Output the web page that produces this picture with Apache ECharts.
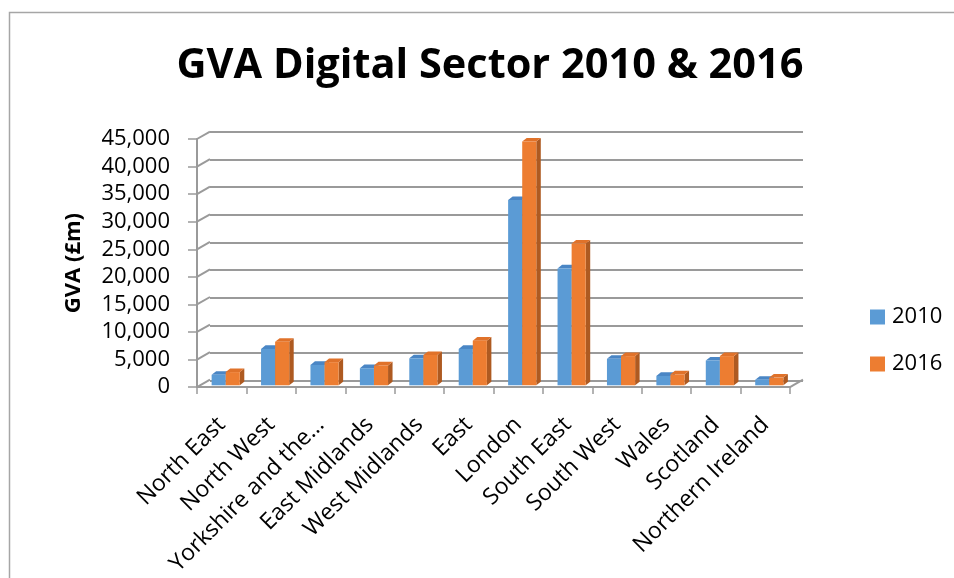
<!DOCTYPE html>
<html>
<head>
<meta charset="utf-8">
<script src="https://cdn.jsdelivr.net/npm/echarts@6/dist/echarts.min.js"></script>
<style>html,body{margin:0;padding:0;background:#fff}#c{width:954px;height:578px}</style>
</head>
<body>
<div id="c"></div>
<script>
const categories = ['North East','North West','Yorkshire and the\u2026','East Midlands','West Midlands','East','London','South East','South West','Wales','Scotland','Northern Ireland'];
const gva2010 = [1900, 6600, 3700, 3100, 4900, 6600, 33600, 21200, 4800, 1700, 4500, 1000];
const gva2016 = [2400, 7900, 4200, 3600, 5500, 8100, 44200, 25700, 5300, 2000, 5300, 1400];
const yTicks = [0, 5000, 10000, 15000, 20000, 25000, 30000, 35000, 40000, 45000];
const seriesNames = ['2010', '2016'];

const FONT = 'Open Sans';
const GRID_COLOR = '#9a9a9a';
const DEPTH_DX = 13, DEPTH_DY = -7.4;   // wall depth
const PLANE_DX = 4, PLANE_DY = -1.8;    // bar plane inside the floor
const BAR_DX = 4.5, BAR_DY = -3.6;      // bar depth
const colors = [
  {front: '#5B9BD5', top: '#4A86C5', side: '#41719C'},
  {front: '#ED7D31', top: '#E0722A', side: '#AE5A21'}
];

function fmt(v){ return v.toString().replace(/\B(?=(\d{3})+(?!\d))/g, ','); }

function barRenderer(k){
  return function(params, api){
    const i = api.value(0), v = api.value(1);
    const top = api.coord([i, v]), base = api.coord([i, 0]);
    const band = api.size([1, 0])[0];
    const w = band * 0.285;
    const cx = top[0] + PLANE_DX;
    const x0 = k === 0 ? cx - w : cx, x1 = x0 + w;
    const yT = top[1] + PLANE_DY, yB = base[1] + PLANE_DY;
    const c = colors[k];
    return {type: 'group', children: [
      {type: 'polygon', shape: {points: [[x1, yT], [x1 + BAR_DX, yT + BAR_DY], [x1 + BAR_DX, yB + BAR_DY], [x1, yB]]}, style: {fill: c.side}},
      {type: 'polygon', shape: {points: [[x0, yT], [x1, yT], [x1 + BAR_DX, yT + BAR_DY], [x0 + BAR_DX, yT + BAR_DY]]}, style: {fill: c.top}},
      {type: 'rect', shape: {x: x0, y: yT, width: w, height: yB - yT}, style: {fill: c.front}}
    ]};
  };
}

function wallRenderer(params, api){
  const val = api.value(0);
  const p = api.coord([0, val]);
  const band = api.size([1, 0])[0];
  const left = p[0] - band / 2;
  const children = [{type: 'line', shape: {x1: left, y1: p[1], x2: left + DEPTH_DX, y2: p[1] + DEPTH_DY}, style: {stroke: GRID_COLOR, lineWidth: 2}}];
  if (val === 0) {
    const q = api.coord([categories.length - 1, 0]);
    const right = q[0] + band / 2;
    children.push({type: 'line', shape: {x1: right, y1: q[1], x2: right + DEPTH_DX, y2: q[1] + DEPTH_DY}, style: {stroke: GRID_COLOR, lineWidth: 2}});
  }
  return {type: 'group', children: children};
}

const chart = echarts.init(document.getElementById('c'), null, {renderer: 'canvas'});
const option = {
  animation: false,
  backgroundColor: '#fff',
  textStyle: {fontFamily: FONT},
  graphic: [{type: 'rect', left: 7, top: 10, shape: {width: 990, height: 620}, style: {fill: 'none', stroke: '#a6a6a6', lineWidth: 1.5}, silent: true, z: -10}],
  title: {text: 'GVA Digital Sector 2010 & 2016', left: 485, top: 40, textAlign: 'center',
    textStyle: {fontFamily: FONT, fontWeight: 'bold', fontSize: 41.5, color: '#000'}},
  legend: {orient: 'vertical', left: 865, top: 301, itemWidth: 15, itemHeight: 15, itemGap: 25,
    icon: 'rect', data: seriesNames,
    textStyle: {fontFamily: FONT, fontSize: 22, color: '#000', padding: [0, 0, 0, 2]}},
  grid: [
    {left: 210, right: 151, top: 139 + DEPTH_DY, height: 249, containLabel: false},
    {left: 197, right: 164, top: 139, height: 249, containLabel: false}
  ],
  xAxis: [
    {gridIndex: 0, type: 'category', data: categories, show: false},
    {gridIndex: 1, type: 'category', data: categories,
      axisLine: {lineStyle: {color: GRID_COLOR, width: 2}},
      axisTick: {show: true, length: 7, lineStyle: {color: GRID_COLOR, width: 1.5}},
      axisLabel: {rotate: 45, fontFamily: FONT, fontSize: 23, color: '#000', margin: 34, interval: 0}}
  ],
  yAxis: [
    {gridIndex: 0, type: 'value', min: 0, max: 45000, interval: 5000,
      axisLine: {show: false}, axisTick: {show: false}, axisLabel: {show: false},
      splitLine: {show: true, lineStyle: {color: GRID_COLOR, width: 2}}},
    {gridIndex: 1, type: 'value', min: 0, max: 45000, interval: 5000,
      name: 'GVA (\u00a3m)', nameLocation: 'middle', nameRotate: 90, nameGap: 112,
      nameTextStyle: {fontFamily: FONT, fontWeight: 'bold', fontSize: 22, color: '#000'},
      axisLine: {show: true, lineStyle: {color: GRID_COLOR, width: 2}},
      axisTick: {show: true, length: 9, lineStyle: {color: GRID_COLOR, width: 1.5}},
      axisLabel: {fontFamily: FONT, fontSize: 22, color: '#000', margin: 27, formatter: fmt},
      splitLine: {show: false}}
  ],
  series: [
    {type: 'custom', name: 'wall', xAxisIndex: 1, yAxisIndex: 1, renderItem: wallRenderer,
      data: yTicks.map(v => [v]), encode: {y: 0}, silent: true, z: 1},
    {type: 'custom', name: seriesNames[0], xAxisIndex: 1, yAxisIndex: 1, renderItem: barRenderer(0),
      itemStyle: {color: colors[0].front}, data: gva2010.map((v, i) => [i, v]), encode: {x: 0, y: 1}, z: 3},
    {type: 'custom', name: seriesNames[1], xAxisIndex: 1, yAxisIndex: 1, renderItem: barRenderer(1),
      itemStyle: {color: colors[1].front}, data: gva2016.map((v, i) => [i, v]), encode: {x: 0, y: 1}, z: 4}
  ]
};
chart.setOption(option);
</script>
</body>
</html>
